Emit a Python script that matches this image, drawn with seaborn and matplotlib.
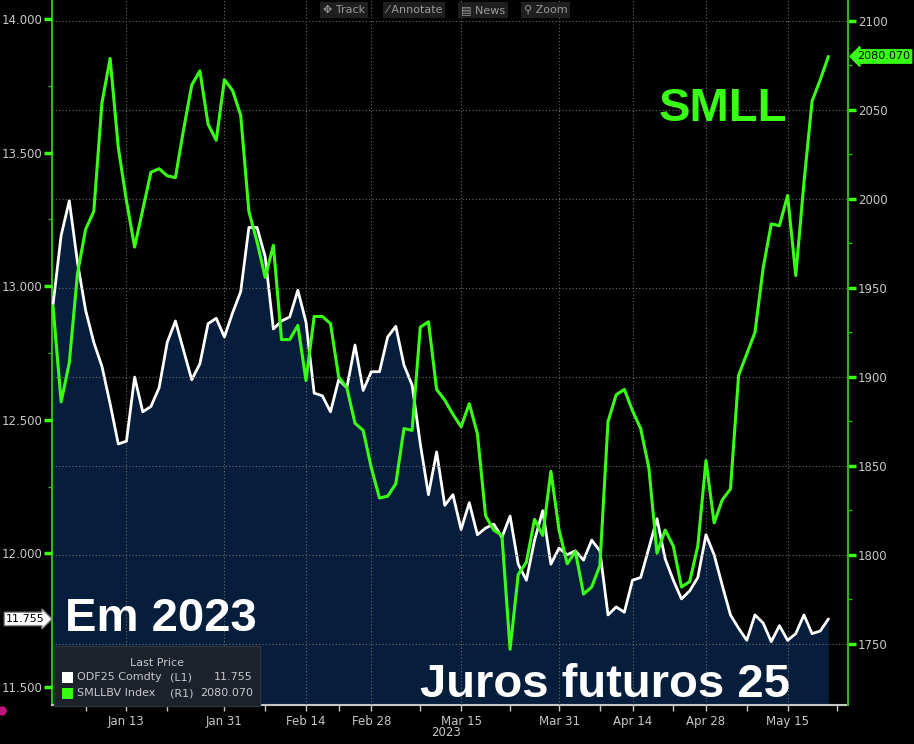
import numpy as np
import pandas as pd
import matplotlib
matplotlib.use('Agg')
import matplotlib.pyplot as plt
import seaborn as sns
from matplotlib.patches import Rectangle, Ellipse
from matplotlib.ticker import FixedLocator

# ODF25 Comdty (juros futuros jan/25), one value per B3 trading day, Jan 2 - May 22 2023
odf25 = [12.93, 13.19, 13.32, 13.09, 12.91, 12.79, 12.70, 12.56, 12.41, 12.42,
         12.66, 12.53, 12.55, 12.62, 12.79, 12.87, 12.76, 12.65, 12.71, 12.86,
         12.88, 12.81, 12.90, 12.98, 13.22, 13.22, 13.11, 12.84, 12.87, 12.885,
         12.985, 12.865, 12.60, 12.59, 12.53, 12.65, 12.62, 12.78, 12.61, 12.68,
         12.68, 12.81, 12.85, 12.705, 12.63, 12.41, 12.22, 12.38, 12.18, 12.22,
         12.09, 12.19, 12.07, 12.095, 12.11, 12.06, 12.14, 11.96, 11.90, 12.05,
         12.16, 11.96, 12.02, 11.995, 12.01, 11.975, 12.05, 12.01, 11.77, 11.80,
         11.78, 11.90, 11.91, 12.02, 12.13, 11.98, 11.90, 11.83, 11.86, 11.91,
         12.07, 11.995, 11.88, 11.77, 11.72, 11.675, 11.77, 11.74, 11.67, 11.73,
         11.675, 11.70, 11.77, 11.70, 11.71, 11.755]

# SMLLBV Index, same days
smll = [1940, 1886, 1908, 1958, 1983, 1993, 2054, 2079, 2029, 1999,
        1973, 1994, 2015, 2017, 2013, 2012, 2039, 2064, 2072, 2042,
        2033, 2067, 2061, 2047, 1993, 1976, 1956, 1974, 1921, 1921,
        1929, 1898, 1934, 1934, 1930, 1900, 1894, 1874, 1870, 1849,
        1832, 1833, 1840, 1871, 1870, 1928, 1931, 1893, 1887, 1879,
        1872, 1885, 1868, 1822, 1814, 1811, 1747, 1789, 1796, 1820,
        1811, 1847, 1814, 1795, 1802, 1778, 1782, 1794, 1875, 1890,
        1893, 1881, 1871, 1849, 1801, 1814, 1805, 1782, 1785, 1805,
        1853, 1818, 1831, 1837, 1901, 1913, 1925, 1961, 1986, 1985,
        2002, 1957, 2009, 2055, 2067, 2080.07]

# x axis: trading-day index of the labelled dates
date_ticks = [9, 21, 31, 39, 50, 62, 71, 80, 90]
date_labels = ['Jan 13', 'Jan 31', 'Feb 14', 'Feb 28', 'Mar 15',
               'Mar 31', 'Apr 14', 'Apr 28', 'May 15']
date_minor = [4, 14, 26, 35, 45, 56, 67, 76, 85, 96]

left_ticks = [11.5, 12.0, 12.5, 13.0, 13.5, 14.0]
right_ticks = [1750, 1800, 1850, 1900, 1950, 2000, 2050, 2100]

GREEN = '#39ff14'
SPINE_GREEN = '#2fb61a'
NAVY = '#061e3b'
GREY = '#c8c8c8'
GRID = '#6a6a6a'

W, H = 914, 744


def fx(px):
    return px / W


def fy(py):
    return 1 - py / H


def main():
    sns.set_style('ticks', {'axes.facecolor': 'black', 'figure.facecolor': 'black'})
    plt.rcParams['font.family'] = ['DejaVu Sans']

    df = pd.DataFrame({'day': np.arange(len(odf25)), 'odf25': odf25, 'smll': smll})

    fig = plt.figure(figsize=(W / 100, H / 100), dpi=100)
    fig.patch.set_facecolor('black')
    ax = fig.add_axes([fx(52), fy(705), fx(848) - fx(52), 705 / H])
    ax2 = ax.twinx()

    # left axis: juros futuros with filled area
    ax.fill_between(df['day'], df['odf25'], 11.0, color=NAVY, lw=0, zorder=1)
    sns.lineplot(data=df, x='day', y='odf25', ax=ax, color='white', lw=2, zorder=3)
    # right axis: SMLL
    sns.lineplot(data=df, x='day', y='smll', ax=ax2, color=GREEN, lw=2.2, zorder=3)

    ax.set_xlim(-0.12, 97.4)
    ax.set_ylim(11.433, 14.071)
    ax2.set_ylim(1715.7, 2111.8)
    ax.set_xlabel('')
    ax.set_ylabel('')
    ax2.set_ylabel('')

    # spines
    for a in (ax, ax2):
        a.spines['top'].set_visible(False)
    ax.spines['right'].set_visible(False)
    ax2.spines['left'].set_visible(False)
    ax2.spines['bottom'].set_visible(False)
    ax.spines['left'].set_color(SPINE_GREEN)
    ax.spines['left'].set_linewidth(1.5)
    ax2.spines['right'].set_color(SPINE_GREEN)
    ax2.spines['right'].set_linewidth(1.5)
    ax.spines['bottom'].set_color(GREY)
    ax.spines['bottom'].set_linewidth(1.5)

    # y ticks
    ax.set_yticks(left_ticks, ['{:.3f}'.format(v) for v in left_ticks])
    ax.yaxis.set_minor_locator(FixedLocator([v + 0.25 for v in left_ticks[:-1]]))
    ax2.set_yticks(right_ticks, [str(v) for v in right_ticks])
    ax2.yaxis.set_minor_locator(FixedLocator([v + 25 for v in right_ticks[:-1]]))
    for a in (ax, ax2):
        a.tick_params(axis='y', which='major', color=GREEN, labelcolor=GREY,
                      length=6, width=2.5, labelsize=8.5, pad=1)
        a.tick_params(axis='y', which='minor', color=SPINE_GREEN, length=3, width=1)

    # x ticks
    ax.set_xticks(date_ticks, date_labels)
    ax.set_xticks(date_minor, minor=True)
    ax.tick_params(axis='x', which='both', color=GREY, labelcolor=GREY,
                   length=4, width=1, labelsize=8.5, pad=3)
    fig.text(fx(446), fy(733), '2023', color=GREY, fontsize=8.5, ha='center', va='center')

    # dotted grid
    ax.set_axisbelow(False)
    ax.grid(axis='x', which='major', color=GRID, ls=(0, (1, 2)), lw=0.8)
    ax.grid(axis='y', visible=False)
    ax2.grid(axis='y', which='major', color=GRID, ls=(0, (1, 2)), lw=0.8)
    ax2.set_axisbelow(True)

    # last price tags on the axes
    ax2.annotate('{:.3f}'.format(smll[-1]), xy=(1, smll[-1]),
                 xycoords=('axes fraction', 'data'), xytext=(9, 0),
                 textcoords='offset pixels', ha='left', va='center',
                 fontsize=8, color='black',
                 bbox=dict(boxstyle='larrow,pad=0.15', fc=GREEN, ec=GREEN))
    ax.annotate('{:.3f}'.format(odf25[-1]), xy=(0, odf25[-1]),
                xycoords=('axes fraction', 'data'), xytext=(-46, 0),
                textcoords='offset pixels', ha='left', va='center',
                fontsize=8, color='black',
                bbox=dict(boxstyle='rarrow,pad=0.15', fc='white', ec='#888888'))

    # legend box
    fig.patches.append(Rectangle((fx(54), fy(706)), fx(260) - fx(54), 60 / H,
                                 transform=fig.transFigure, fc='#1b222b',
                                 ec='#2c333c', lw=1, zorder=5))
    fig.text(fx(157), fy(663), 'Last Price', color=GREY, fontsize=8,
             ha='center', va='center', zorder=6)
    rows = [('white', 'ODF25 Comdty', '(L1)', '{:.3f}'.format(odf25[-1]), 677),
            (GREEN, 'SMLLBV Index', '(R1)', '{:.3f}'.format(smll[-1]), 693)]
    for col, name, side, last, y in rows:
        fig.patches.append(Rectangle((fx(62), fy(y + 5.5)), 11 / W, 11 / H,
                                     transform=fig.transFigure, fc=col, ec='none', zorder=6))
        fig.text(fx(77), fy(y), name, color=GREY, fontsize=8, ha='left', va='center', zorder=6)
        fig.text(fx(170), fy(y), side, color=GREY, fontsize=8, ha='left', va='center', zorder=6)
        fig.text(fx(253), fy(y), last, color=GREY, fontsize=8, ha='right', va='center', zorder=6)

    # big annotations
    big = dict(fontsize=34, fontweight='bold', family='Liberation Sans', va='baseline')
    fig.text(fx(723), fy(121), 'SMLL', color=GREEN, ha='center', **big)
    fig.text(fx(65), fy(631), 'Em 2023', color='white', ha='left', **big)
    fig.text(fx(420), fy(697), 'Juros futuros 25', color='white', ha='left', **big)

    # toolbar at the top
    for label, x in [('\u2725 Track', 323), ('\u2044 Annotate', 386),
                     ('\u25a4 News', 461), ('\u26b2 Zoom', 524)]:
        fig.text(fx(x), fy(10), label, color='#9a9a9a', fontsize=8, ha='left', va='center',
                 bbox=dict(boxstyle='square,pad=0.25', fc='#1f1f1f', ec='none'))

    # stray marker bottom-left
    fig.patches.append(Ellipse((fx(2), fy(711)), 8 / W, 8 / H,
                               transform=fig.transFigure, color='#c0157a'))

    fig.savefig('out.png', dpi=100, facecolor='black')


if __name__ == "__main__":
    main()
